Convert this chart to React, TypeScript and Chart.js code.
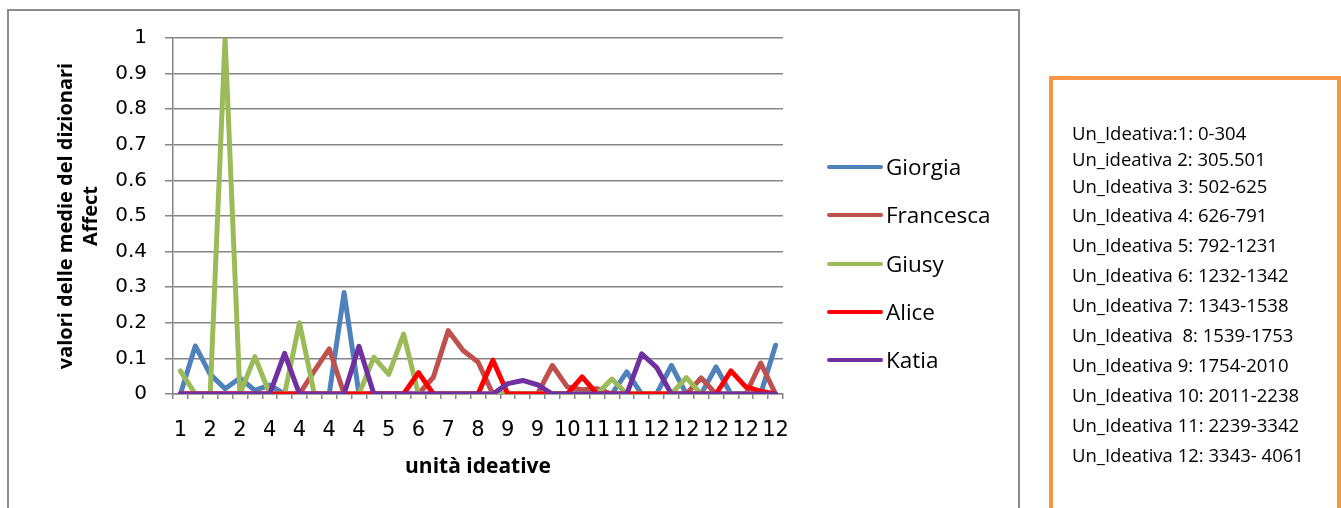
import React, { useEffect, useRef } from "react";
import { Chart, registerables } from "chart.js";

Chart.register(...registerables);

// ---- data ----
const categories = [
  "1", "1", "2", "2", "2", "3", "4", "4", "4", "4", "4",
  "4", "4", "5", "5", "5", "6", "6", "7", "7", "8", "8",
  "9", "9", "9", "10", "10", "10", "11", "11", "11", "11", "12",
  "12", "12", "12", "12", "12", "12", "12", "12",
];

const seriesNames = ["Giorgia", "Francesca", "Giusy", "Alice", "Katia"];
const seriesColors = ["#4F81BD", "#C0504D", "#9BBB59", "#FF0000", "#7030A0"];

const giorgia = [
  0, 0.135, 0.055, 0.015, 0.045, 0.01, 0.025, 0, 0, 0, 0,
  0.285, 0, 0, 0, 0, 0, 0, 0, 0, 0, 0,
  0, 0, 0, 0, 0, 0, 0, 0, 0.062, 0, 0,
  0.08, 0, 0, 0.076, 0, 0, 0, 0.137,
];
const francesca = [
  0, 0, 0, 0, 0, 0, 0, 0, 0, 0.065, 0.127,
  0, 0, 0, 0, 0, 0, 0.047, 0.178, 0.122, 0.09, 0,
  0, 0, 0, 0.08, 0.02, 0.012, 0.015, 0, 0, 0, 0,
  0, 0, 0.045, 0, 0, 0, 0.087, 0,
];
const giusy = [
  0.065, 0, 0, 1.0, 0, 0.105, 0, 0, 0.2, 0, 0,
  0, 0, 0.103, 0.055, 0.168, 0, 0, 0, 0, 0, 0,
  0, 0, 0, 0, 0, 0, 0, 0.042, 0, 0, 0,
  0, 0.046, 0, 0, 0, 0, 0, 0,
];
const alice = [
  0, 0, 0, 0, 0, 0, 0, 0, 0, 0, 0,
  0, 0, 0, 0, 0, 0.06, 0, 0, 0, 0, 0.095,
  0, 0, 0, 0, 0, 0.048, 0, 0, 0, 0, 0,
  0, 0, 0, 0, 0.065, 0.02, 0.008, 0,
];
const katia = [
  0, 0, 0, 0, 0, 0, 0, 0.114, 0, 0, 0,
  0, 0.134, 0, 0, 0, 0, 0, 0, 0, 0, 0,
  0.029, 0.038, 0.026, 0, 0, 0, 0, 0, 0, 0.113, 0.075,
  0, 0, 0, 0, 0, 0, 0, 0,
];
const seriesValues = [giorgia, francesca, giusy, alice, katia];

const yTitle = ["valori delle medie del dizionari", "Affect"];
const xTitle = "unità ideative";

const noteLines = [
  "Un_Ideativa:1: 0-304",
  "Un_ideativa 2: 305.501",
  "Un_Ideativa 3: 502-625",
  "Un_Ideativa 4: 626-791",
  "Un_Ideativa 5: 792-1231",
  "Un_Ideativa 6: 1232-1342",
  "Un_Ideativa 7: 1343-1538",
  "Un_Ideativa  8: 1539-1753",
  "Un_Ideativa 9: 1754-2010",
  "Un_Ideativa 10: 2011-2238",
  "Un_Ideativa 11: 2239-3342",
  "Un_Ideativa 12: 3343- 4061",
];

// ---- layout constants ----
const W = 1341;
const H = 508;
const PLOT_LEFT = 173;
const PLOT_RIGHT = 783;
const PLOT_TOP = 38;
const PLOT_BOTTOM = 394;
const GRID = "#868686";

const legendRowY = [167, 215, 263.5, 311.5, 360];
const noteRowY = [132.7, 159.3, 186, 215.3, 245.3, 275.3, 305.3, 335.3, 365.3, 395.3, 425.3, 454.7];

export default function App() {
  const canvasRef = useRef<HTMLCanvasElement | null>(null);

  useEffect(() => {
    const canvas = canvasRef.current;
    if (!canvas) return;
    const chart = new Chart(canvas, {
      type: "line",
      data: {
        labels: categories,
        datasets: seriesNames.map((name, i) => ({
          label: name,
          data: seriesValues[i],
          borderColor: seriesColors[i],
          backgroundColor: seriesColors[i],
          borderWidth: 5,
          pointRadius: 0,
          pointHoverRadius: 0,
          tension: 0,
          fill: false,
          borderJoinStyle: "round" as const,
          borderCapStyle: "round" as const,
          order: seriesNames.length - i,
        })),
      },
      options: {
        animation: false,
        responsive: false,
        devicePixelRatio: 1,
        events: [],
        layout: {
          padding: { left: 0, top: PLOT_TOP, right: W - PLOT_RIGHT, bottom: 0 },
        },
        plugins: {
          legend: { display: false },
          tooltip: { enabled: false },
        },
        scales: {
          x: {
            type: "category",
            offset: true,
            grid: {
              offset: true,
              drawOnChartArea: false,
              drawTicks: true,
              tickLength: 5,
              color: GRID,
              lineWidth: 1.5,
            },
            border: { display: true, color: GRID, width: 1.5 },
            ticks: {
              autoSkip: false,
              maxRotation: 0,
              minRotation: 0,
              padding: 19,
              color: "#000",
              font: { family: "DejaVu Sans", size: 21 },
              callback: (_v: any, i: number) => (i % 2 === 0 ? categories[i] : ""),
            },
            title: {
              display: true,
              text: xTitle,
              color: "#000",
              font: { family: "Open Sans", size: 21, weight: "bold" },
              padding: { top: 0, bottom: 28.5 },
            },
            afterFit: (s: any) => {
              s.height = H - PLOT_BOTTOM;
              s.paddingLeft = 0;
              s.paddingRight = 0;
            },
          },
          y: {
            min: 0,
            max: 1,
            grid: {
              color: GRID,
              lineWidth: 1.5,
              drawTicks: true,
              tickLength: 8,
            },
            border: { display: true, color: GRID, width: 1.5 },
            ticks: {
              stepSize: 0.1,
              padding: 18,
              color: "#000",
              font: { family: "DejaVu Sans", size: 20 },
              callback: (v: any) => String(Math.round(Number(v) * 10) / 10),
            },
            title: {
              display: true,
              text: yTitle,
              color: "#000",
              font: { family: "Open Sans", size: 20, weight: "bold", lineHeight: "25px" },
              padding: { top: 53.5, bottom: 0 },
            },
            afterFit: (s: any) => {
              s.width = PLOT_LEFT;
              s.paddingTop = 0;
              s.paddingBottom = 0;
            },
          },
        },
      } as any,
    });
    return () => chart.destroy();
  }, []);

  return (
    <div
      style={{
        position: "fixed",
        left: 0,
        top: 0,
        width: W,
        height: H,
        background: "#fff",
        overflow: "hidden",
      }}
    >
      {/* chart frame */}
      <div
        style={{
          position: "absolute",
          left: 7,
          top: 9,
          width: 1020 - 7,
          height: H + 20,
          border: "2px solid #8c8c8c",
          boxSizing: "border-box",
        }}
      />
      <canvas
        ref={canvasRef}
        width={W}
        height={H}
        style={{ position: "absolute", left: 0, top: 0, width: W, height: H }}
      />
      {/* legend */}
      {seriesNames.map((name, i) => (
        <React.Fragment key={name}>
          <div
            style={{
              position: "absolute",
              left: 827,
              top: legendRowY[i] - 2,
              width: 56,
              height: 4,
              borderRadius: 2,
              background: seriesColors[i],
            }}
          />
          <div
            style={{
              position: "absolute",
              left: 886,
              top: legendRowY[i] - 16,
              height: 32,
              lineHeight: "32px",
              fontFamily: "Open Sans",
              fontSize: 22.5,
              color: "#000",
              whiteSpace: "nowrap",
            }}
          >
            {name}
          </div>
        </React.Fragment>
      ))}
      {/* note box */}
      <div
        style={{
          position: "absolute",
          left: 1049,
          top: 76,
          width: 292,
          height: 460,
          border: "4px solid #F79646",
          boxSizing: "border-box",
        }}
      />
      {noteLines.map((t, i) => (
        <div
          key={i}
          style={{
            position: "absolute",
            left: 1072,
            top: noteRowY[i] - 13,
            height: 26,
            lineHeight: "26px",
            fontFamily: "Open Sans",
            fontSize: 18.5,
            color: "#000",
            whiteSpace: "pre",
          }}
        >
          {t}
        </div>
      ))}
    </div>
  );
}
